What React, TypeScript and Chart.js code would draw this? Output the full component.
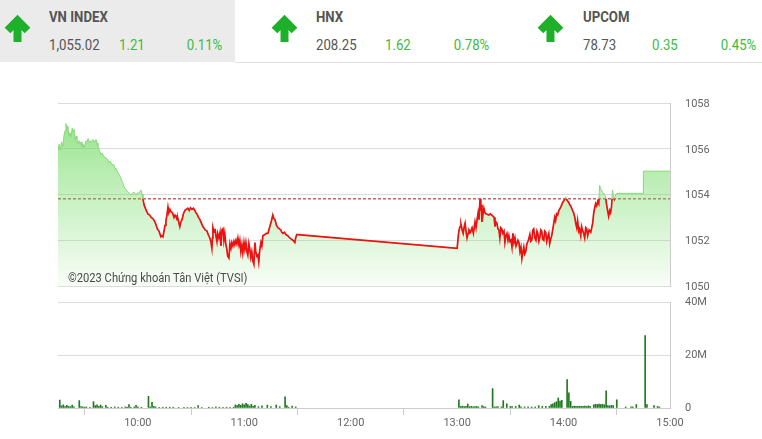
import React, { useEffect, useRef } from "react";
import { Chart, registerables } from "chart.js";

Chart.register(...registerables);

// ---------- header data ----------
const indexNames = ["VN INDEX", "HNX", "UPCOM"];
const indexValues = ["1,055.02", "208.25", "78.73"];
const indexChanges = ["1.21", "1.62", "0.35"];
const indexPercents = ["0.11%", "0.78%", "0.45%"];

// ---------- price data ----------
const refValue = 1053.81;
const priceTicks = [1050, 1052, 1054, 1056, 1058];
const priceTickLabels = ["1050", "1052", "1054", "1056", "1058"];
const timeTickLabels = ["10:00", "11:00", "12:00", "13:00", "14:00", "15:00"];
const axisStart = "09:15:00";
const axisEnd = "15:00:00";

const priceTimes = [
  "09:15:00", "09:15:40", "09:16:20", "09:17:00", "09:17:40", "09:18:25", "09:19:00", "09:19:30",
  "09:20:00", "09:20:35", "09:21:10", "09:21:45", "09:22:20", "09:23:00", "09:23:30", "09:24:05",
  "09:24:35", "09:25:10", "09:25:40", "09:26:20", "09:27:00", "09:27:25", "09:28:00", "09:28:30",
  "09:29:05", "09:29:35", "09:30:15", "09:30:50", "09:31:25", "09:31:55", "09:32:30", "09:33:00",
  "09:33:50", "09:34:40", "09:35:30", "09:36:25", "09:37:00", "09:37:30", "09:38:20", "09:39:10",
  "09:40:00", "09:40:55", "09:42:00", "09:42:50", "09:43:40", "09:44:30", "09:45:25", "09:46:30",
  "09:47:10", "09:47:40", "09:48:20", "09:48:50", "09:49:40", "09:50:30", "09:51:20", "09:52:10",
  "09:53:20", "09:54:25", "09:55:15", "09:56:05", "09:57:00", "09:57:50", "09:58:55", "10:00:00",
  "10:00:35", "10:01:20", "10:01:50", "10:02:25", "10:02:55", "10:03:30", "10:04:30", "10:05:40",
  "10:06:40", "10:07:30", "10:08:30", "10:09:20", "10:10:10", "10:11:00", "10:11:55", "10:13:00",
  "10:13:30", "10:14:10", "10:14:45", "10:15:20", "10:15:50", "10:16:25", "10:17:00", "10:17:30",
  "10:18:05", "10:18:40", "10:19:30", "10:20:25", "10:21:00", "10:21:30", "10:22:05", "10:22:35",
  "10:23:10", "10:23:40", "10:24:15", "10:24:55", "10:25:40", "10:26:30", "10:27:20", "10:28:10",
  "10:29:00", "10:29:40", "10:30:30", "10:31:20", "10:32:10", "10:32:45", "10:33:20", "10:34:10",
  "10:35:00", "10:35:50", "10:36:40", "10:38:00", "10:39:00", "10:39:40", "10:40:35", "10:41:10",
  "10:41:45", "10:42:05", "10:42:20", "10:43:00", "10:43:30", "10:44:00", "10:44:35", "10:45:00",
  "10:45:40", "10:46:20", "10:46:50", "10:47:25", "10:48:00", "10:48:30", "10:49:00", "10:49:35",
  "10:50:10", "10:50:40", "10:51:20", "10:51:55", "10:52:30", "10:53:00", "10:53:35", "10:54:10",
  "10:54:40", "10:55:20", "10:55:50", "10:56:25", "10:57:00", "10:57:30", "10:58:05", "10:58:40",
  "10:59:10", "10:59:50", "11:00:20", "11:00:55", "11:01:30", "11:02:00", "11:02:35", "11:03:10",
  "11:03:40", "11:04:15", "11:04:50", "11:05:25", "11:06:00", "11:06:30", "11:07:05", "11:07:40",
  "11:08:10", "11:08:45", "11:09:25", "11:09:55", "11:10:30", "11:11:35", "11:12:30", "11:13:20",
  "11:14:25", "11:15:20", "11:16:05", "11:16:40", "11:17:20", "11:18:10", "11:19:00", "11:19:50",
  "11:20:35", "11:21:10", "11:21:50", "11:22:40", "11:23:30", "11:24:30", "11:25:40", "11:26:30",
  "11:27:25", "11:28:00", "11:28:30", "11:29:00", "11:29:35", "11:30:00", "13:00:00", "13:00:40",
  "13:01:05", "13:01:40", "13:02:10", "13:02:50", "13:03:25", "13:04:00", "13:04:30", "13:05:00",
  "13:05:35", "13:06:10", "13:06:40", "13:07:30", "13:08:25", "13:09:10", "13:10:05", "13:10:40",
  "13:11:20", "13:11:50", "13:12:20", "13:12:55", "13:13:20", "13:13:40", "13:14:00", "13:14:30",
  "13:15:05", "13:15:40", "13:16:30", "13:17:55", "13:18:40", "13:19:35", "13:20:50", "13:21:20",
  "13:21:50", "13:22:25", "13:23:00", "13:23:35", "13:24:05", "13:24:40", "13:25:10", "13:25:45",
  "13:26:25", "13:26:55", "13:27:30", "13:28:05", "13:28:40", "13:29:10", "13:29:45", "13:30:20",
  "13:30:55", "13:31:25", "13:32:00", "13:32:35", "13:33:10", "13:33:40", "13:34:15", "13:34:50",
  "13:35:25", "13:36:00", "13:36:30", "13:37:00", "13:37:35", "13:38:05", "13:38:40", "13:39:20",
  "13:40:10", "13:41:00", "13:41:30", "13:42:05", "13:42:40", "13:43:10", "13:43:50", "13:44:25",
  "13:45:00", "13:45:30", "13:46:05", "13:46:35", "13:47:10", "13:47:40", "13:48:15", "13:48:50",
  "13:49:25", "13:49:55", "13:50:30", "13:51:05", "13:51:40", "13:52:10", "13:52:45", "13:53:20",
  "13:54:10", "13:55:00", "13:55:30", "13:56:05", "13:56:40", "13:57:20", "13:58:25", "13:59:30",
  "14:00:20", "14:01:10", "14:02:00", "14:02:55", "14:03:30", "14:04:00", "14:05:05", "14:05:40",
  "14:06:20", "14:06:50", "14:07:25", "14:07:55", "14:08:30", "14:09:00", "14:09:40", "14:10:10",
  "14:10:40", "14:11:20", "14:11:55", "14:12:30", "14:13:00", "14:13:35", "14:14:20", "14:15:20",
  "14:16:25", "14:17:00", "14:17:30", "14:18:05", "14:18:40", "14:19:15", "14:19:50", "14:20:20",
  "14:21:10", "14:22:00", "14:23:00", "14:23:40", "14:24:10", "14:24:50", "14:25:25", "14:26:00",
  "14:26:30", "14:27:00", "14:27:35", "14:28:10", "14:28:40", "14:29:20", "14:29:55", "14:45:00",
  "14:45:00", "15:00:00",
];

const priceValues = [
  1055.9, 1056.2, 1055.95, 1056.3, 1056.1, 1056.6, 1056.8, 1057.1,
  1056.85, 1057.0, 1056.55, 1056.7, 1056.5, 1056.9, 1056.75, 1056.85,
  1056.4, 1056.55, 1056.45, 1056.2, 1056.35, 1056.25, 1056.3, 1056.1,
  1056.2, 1056.05, 1056.2, 1056.35, 1056.3, 1056.45, 1056.3, 1056.35,
  1056.3, 1056.4, 1056.3, 1056.4, 1056.25, 1056.1, 1055.95, 1055.75,
  1055.8, 1055.65, 1055.6, 1055.55, 1055.4, 1055.45, 1055.3, 1055.3,
  1055.15, 1055.1, 1055.05, 1054.95, 1054.85, 1054.7, 1054.55, 1054.35,
  1054.2, 1054.1, 1054.05, 1053.98, 1054.05, 1054.1, 1054.0, 1054.08,
  1054.05, 1054.15, 1054.2, 1054.0, 1053.8, 1053.55, 1053.35, 1053.15,
  1053.1, 1053.0, 1052.95, 1052.85, 1052.7, 1052.5, 1052.4, 1052.15,
  1052.2, 1052.15, 1052.4, 1052.65, 1052.85, 1053.1, 1053.45, 1053.2,
  1053.35, 1053.25, 1053.2, 1053.0, 1053.1, 1053.05, 1052.9, 1052.95,
  1052.75, 1052.6, 1052.8, 1052.9, 1053.15, 1053.3, 1053.35, 1053.4,
  1053.3, 1053.42, 1053.35, 1053.4, 1053.3, 1053.2, 1053.15, 1053.0,
  1052.9, 1052.75, 1052.6, 1052.45, 1052.4, 1052.25, 1052.1, 1051.95,
  1051.65, 1052.1, 1052.55, 1052.35, 1052.5, 1052.2, 1051.95, 1052.3,
  1052.1, 1052.35, 1051.75, 1052.45, 1052.5, 1052.0, 1052.3, 1051.85,
  1051.6, 1051.3, 1051.22, 1051.85, 1051.65, 1051.9, 1051.75, 1051.95,
  1051.8, 1052.0, 1051.85, 1052.1, 1051.8, 1052.0, 1051.5, 1051.8,
  1051.45, 1051.9, 1051.6, 1051.9, 1051.5, 1051.35, 1051.85, 1051.6,
  1051.25, 1051.5, 1051.1, 1050.95, 1051.9, 1051.5, 1051.3, 1051.35,
  1051.05, 1051.6, 1051.9, 1051.75, 1052.2, 1052.25, 1052.3, 1052.3,
  1052.6, 1052.85, 1053.1, 1052.95, 1052.9, 1052.65, 1052.55, 1052.5,
  1052.45, 1052.35, 1052.3, 1052.35, 1052.25, 1052.2, 1052.1, 1052.05,
  1052.0, 1051.95, 1051.9, 1052.1, 1052.25, 1052.25, 1051.65, 1052.2,
  1052.45, 1052.6, 1052.7, 1052.45, 1052.3, 1052.6, 1052.75, 1052.4,
  1052.1, 1052.3, 1052.45, 1052.35, 1052.55, 1052.3, 1052.8, 1052.55,
  1052.95, 1053.2, 1052.9, 1053.8, 1053.3, 1053.55, 1052.8, 1053.1,
  1053.4, 1053.2, 1053.15, 1053.1, 1053.15, 1053.1, 1053.0, 1052.6,
  1052.8, 1052.75, 1052.5, 1052.45, 1052.1, 1052.55, 1052.5, 1052.3,
  1052.4, 1051.9, 1052.2, 1052.3, 1052.0, 1052.2, 1051.95, 1052.0,
  1051.7, 1052.3, 1051.9, 1052.1, 1051.75, 1051.85, 1052.0, 1051.9,
  1051.5, 1051.7, 1051.2, 1051.45, 1051.7, 1051.4, 1051.5, 1051.85,
  1052.0, 1052.25, 1051.95, 1052.0, 1052.45, 1052.5, 1052.1, 1052.0,
  1052.4, 1052.3, 1051.95, 1052.1, 1052.45, 1052.4, 1052.05, 1052.0,
  1052.4, 1052.35, 1051.95, 1052.15, 1052.3, 1051.85, 1052.05, 1052.2,
  1052.6, 1053.0, 1052.85, 1053.15, 1053.1, 1053.3, 1053.45, 1053.65,
  1053.75, 1053.9, 1053.75, 1053.65, 1053.55, 1053.5, 1053.3, 1053.2,
  1053.0, 1052.75, 1052.55, 1052.85, 1052.4, 1052.5, 1052.2, 1052.6,
  1052.45, 1052.3, 1052.1, 1052.55, 1052.5, 1052.2, 1052.45, 1052.35,
  1052.75, 1053.2, 1053.4, 1053.6, 1053.5, 1053.7, 1053.6, 1054.4,
  1054.2, 1054.1, 1054.0, 1053.95, 1053.6, 1053.3, 1053.05, 1053.3,
  1053.2, 1053.45, 1054.2, 1053.9, 1053.8, 1054.0, 1054.05, 1054.05,
  1055.02, 1055.02,
];

// ---------- volume data (millions) ----------
const volumeTicks = [0, 20, 40];
const volumeTickLabels = ["0", "20M", "40M"];
const volumeTimes = [
  "09:16", "09:17", "09:18", "09:19", "09:20", "09:21", "09:22", "09:23", "09:24", "09:27",
  "09:28", "09:29", "09:30", "09:31", "09:33", "09:35", "09:36", "09:37", "09:38", "09:39",
  "09:40", "09:42", "09:43", "09:45", "09:47", "09:49", "09:51", "09:53", "09:54", "09:55",
  "09:56", "09:58", "09:59", "10:00", "10:02", "10:06", "10:07", "10:08", "10:09", "10:10",
  "10:12", "10:14", "10:16", "10:18", "10:20", "10:23", "10:26", "10:28", "10:30", "10:32",
  "10:34", "10:36", "10:40", "10:42", "10:44", "10:46", "10:48", "10:50", "10:52", "10:54",
  "10:55", "10:56", "10:57", "10:58", "10:59", "11:00", "11:01", "11:02", "11:03", "11:04",
  "11:05", "11:06", "11:08", "11:10", "11:13", "11:15", "11:18", "11:20", "11:23", "11:24",
  "11:25", "11:27", "11:29",
  "13:01", "13:02", "13:03", "13:04", "13:05", "13:06", "13:07", "13:08", "13:09", "13:10",
  "13:11", "13:12", "13:14", "13:15", "13:16", "13:20", "13:21", "13:22", "13:23", "13:25",
  "13:26", "13:28", "13:30", "13:31", "13:33", "13:35", "13:36", "13:38", "13:40", "13:42",
  "13:44", "13:46", "13:48", "13:50", "13:52", "13:53", "13:54", "13:55", "13:56", "13:57",
  "13:58", "13:59", "14:02", "14:03", "14:04", "14:05", "14:06", "14:07", "14:08", "14:09",
  "14:10", "14:11", "14:12", "14:13", "14:14", "14:15", "14:17", "14:18", "14:19", "14:20",
  "14:21", "14:22", "14:23", "14:24", "14:25", "14:26", "14:27", "14:28", "14:30", "14:35",
  "14:38", "14:39", "14:41", "14:46", "14:47", "14:51", "14:53", "14:54",
];
const volumeValues = [
  3.0, 0.8, 1.2, 0.5, 1.0, 0.6, 0.5, 1.1, 0.4, 2.8,
  0.5, 0.4, 0.3, 0.4, 0.3, 2.4, 0.9, 1.2, 0.6, 1.1,
  0.5, 1.0, 0.3, 0.3, 0.4, 0.3, 0.3, 0.4, 0.3, 1.3,
  0.3, 0.4, 1.0, 0.4, 0.3, 4.4, 0.4, 2.1, 0.6, 0.4,
  0.3, 0.3, 0.3, 0.3, 0.3, 0.2, 0.3, 0.2, 0.3, 0.2,
  0.9, 0.2, 0.3, 0.2, 0.4, 0.3, 0.3, 0.3, 0.3, 0.3,
  1.2, 0.9, 1.4, 1.0, 1.6, 1.2, 1.8, 1.3, 0.8, 1.4,
  0.6, 1.0, 0.5, 0.8, 1.1, 0.5, 1.1, 0.5, 4.2, 0.9,
  0.3, 0.7, 0.4,
  3.1, 0.6, 0.7, 0.5, 0.6, 1.5, 0.5, 0.6, 0.4, 0.5,
  0.6, 0.4, 0.9, 0.5, 0.4, 7.3, 0.4, 0.4, 0.5, 0.4,
  2.8, 1.6, 0.6, 0.5, 0.6, 1.1, 0.4, 0.4, 0.4, 0.4,
  0.4, 0.9, 0.6, 0.6, 0.6, 1.3, 1.6, 2.0, 2.4, 3.8,
  2.6, 2.9, 10.7, 5.7, 2.5, 0.6, 0.7, 0.6, 0.6, 0.7,
  0.6, 0.6, 0.7, 0.6, 0.8, 0.6, 1.2, 1.4, 1.3, 1.5,
  1.3, 1.4, 1.2, 6.5, 0.9, 0.8, 1.0, 0.9, 3.1, 0.4,
  0.4, 0.4, 1.3, 27.3, 1.3, 0.9, 0.6, 0.4,
];

const toMinBase = 9 * 60 + 15;
const toMin = (t: string) => {
  const p = t.split(":").map(Number);
  const s = p[2] || 0;
  return p[0] * 60 + p[1] + s / 60 - toMinBase;
};

const FONT = "Roboto, 'Noto Sans', sans-serif";
const GRID = "#dcdcdc";
const BORDER = "#cccccc";
const LABEL = "#666666";
const W = 762;
const PLOT_RIGHT = 670;
const PLOT_LEFT = 58;

// clip the red line to the part below the reference price
const refClipPlugin = {
  id: "refClip",
  beforeDatasetDraw(chart: any, args: any) {
    const ds = chart.data.datasets[args.index];
    if (ds.label !== "below") return;
    const y = chart.scales.y.getPixelForValue(refValue);
    const { ctx, chartArea } = chart;
    ctx.save();
    ctx.beginPath();
    ctx.rect(chartArea.left, y, chartArea.right - chartArea.left, chartArea.bottom - y + 3);
    ctx.clip();
  },
  afterDatasetDraw(chart: any, args: any) {
    const ds = chart.data.datasets[args.index];
    if (ds.label !== "below") return;
    chart.ctx.restore();
  },
};

// right-hand y labels drawn manually (keeps Chart.js layout padding exact)
const yLabelPlugin = {
  id: "yLabels",
  afterDraw(chart: any, _args: any, opts: any) {
    if (!opts || !opts.values) return;
    const { ctx, chartArea } = chart;
    const scale = chart.scales.y;
    ctx.save();
    ctx.font = `11px ${FONT}`;
    ctx.fillStyle = LABEL;
    ctx.textAlign = "left";
    ctx.textBaseline = "middle";
    opts.values.forEach((v: number, i: number) => {
      ctx.fillText(opts.labels[i], chartArea.right + 15, scale.getPixelForValue(v) + (opts.dy || 0));
    });
    ctx.restore();
  },
};

const timeTickValues = () => timeTickLabels.map((l) => toMin(l));

function PriceChart() {
  const ref = useRef<HTMLCanvasElement | null>(null);
  useEffect(() => {
    if (!ref.current) return;
    const pts = priceTimes.map((t, i) => ({ x: toMin(t), y: priceValues[i] }));
    const xMin = toMin(axisStart);
    const xMax = toMin(axisEnd);
    const chart = new Chart(ref.current, {
      type: "line",
      data: {
        datasets: [
          {
            label: "reference",
            data: [
              { x: xMin, y: refValue },
              { x: xMax, y: refValue },
            ],
            borderColor: "#a81414",
            borderWidth: 1,
            borderDash: [3, 2],
            pointRadius: 0,
            fill: false,
            order: 3,
          },
          {
            label: "area",
            data: pts,
            borderColor: "#86d878",
            borderWidth: 1,
            pointRadius: 0,
            tension: 0,
            fill: "start",
            backgroundColor: (c: any) => {
              const { ctx, chartArea } = c.chart;
              if (!chartArea) return "rgba(100,215,85,0.4)";
              const g = ctx.createLinearGradient(0, chartArea.top, 0, chartArea.bottom);
              g.addColorStop(0, "rgba(100,215,85,0.75)");
              g.addColorStop(0.5, "rgba(110,218,95,0.40)");
              g.addColorStop(1, "rgba(120,220,105,0.06)");
              return g;
            },
            order: 2,
          },
          {
            label: "below",
            data: pts,
            borderColor: "#ee1111",
            borderWidth: 1.7,
            pointRadius: 0,
            tension: 0,
            fill: false,
            order: 1,
          },
        ],
      },
      options: {
        responsive: false,
        animation: false,
        events: [],
        layout: { padding: { left: PLOT_LEFT, right: 0, top: 13, bottom: 9 } },
        plugins: {
          legend: { display: false },
          tooltip: { enabled: false },
          yLabels: { values: priceTicks, labels: priceTickLabels, dy: 1 },
        } as any,
        scales: {
          x: {
            type: "linear",
            display: false,
            min: xMin,
            max: xMax,
          },
          y: {
            position: "right",
            min: 1050,
            max: 1058,
            afterBuildTicks: (s: any) => {
              s.ticks = priceTicks.map((v) => ({ value: v }));
            },
            afterFit: (s: any) => {
              s.width = W - PLOT_RIGHT;
            },
            grid: { color: GRID, drawTicks: false },
            border: { display: true, color: BORDER },
            ticks: { display: false },
          },
        },
      },
      plugins: [refClipPlugin, yLabelPlugin],
    });
    return () => chart.destroy();
  }, []);
  return <canvas ref={ref} width={W} height={205} style={{ display: "block" }} />;
}

function VolumeChart() {
  const ref = useRef<HTMLCanvasElement | null>(null);
  useEffect(() => {
    if (!ref.current) return;
    const pts = volumeTimes.map((t, i) => ({ x: toMin(t), y: volumeValues[i] }));
    const xMin = toMin(axisStart);
    const xMax = toMin(axisEnd);
    const chart = new Chart(ref.current, {
      type: "bar",
      data: {
        datasets: [
          {
            label: "volume",
            data: pts,
            backgroundColor: "#1f7a1f",
            borderWidth: 0,
            barThickness: 1,
            grouped: false,
          },
        ],
      },
      options: {
        responsive: false,
        animation: false,
        events: [],
        layout: { padding: { left: PLOT_LEFT, right: 0, top: 7, bottom: 6 } },
        plugins: {
          legend: { display: false },
          tooltip: { enabled: false },
          yLabels: { values: volumeTicks, labels: volumeTickLabels, dy: 0 },
        } as any,
        scales: {
          x: {
            type: "linear",
            min: xMin,
            max: xMax,
            offset: false,
            afterBuildTicks: (s: any) => {
              s.ticks = timeTickValues().map((v) => ({ value: v }));
            },
            afterFit: (s: any) => {
              s.height = 25;
            },
            grid: { drawOnChartArea: false, drawTicks: true, tickLength: 7, color: BORDER },
            border: { display: true, color: BORDER },
            ticks: {
              padding: 2,
              maxRotation: 0,
              autoSkip: false,
              color: LABEL,
              font: { family: FONT, size: 11 },
              callback: (v: any) => {
                const i = timeTickValues().findIndex((t) => Math.abs(t - v) < 0.01);
                return i >= 0 ? timeTickLabels[i] : "";
              },
            },
          },
          y: {
            position: "right",
            min: 0,
            max: 40,
            afterBuildTicks: (s: any) => {
              s.ticks = volumeTicks.map((v) => ({ value: v }));
            },
            afterFit: (s: any) => {
              s.width = W - PLOT_RIGHT;
            },
            grid: { color: GRID, drawTicks: false },
            border: { display: true, color: BORDER },
            ticks: { display: false },
          },
        },
      },
      plugins: [yLabelPlugin],
    });
    return () => chart.destroy();
  }, []);
  return <canvas ref={ref} width={W} height={144} style={{ display: "block" }} />;
}

function UpArrow({ left }: { left: number }) {
  return (
    <svg width={30} height={29} viewBox="0 0 30 29" style={{ position: "absolute", left, top: 13 }}>
      <path
        d="M14.5 29 V7 M4.5 17.5 L14.5 7.5 L24.5 17.5"
        stroke="#1eb02a"
        strokeWidth={8}
        fill="none"
        strokeLinejoin="miter"
        strokeLinecap="butt"
      />
    </svg>
  );
}

const arrowLefts = [3, 270, 536];
const textLefts = [49, 316, 583];
const changeLefts = [119, 385, 652];
const pctRights = [222, 489, 756];

function Txt(props: { left?: number; right?: number; top: number; color: string; bold?: boolean; children: any }) {
  const style: any = {
    position: "absolute",
    top: props.top,
    fontFamily: FONT,
    fontSize: 15,
    lineHeight: "15px",
    fontWeight: props.bold ? 700 : 400,
    color: props.color,
    whiteSpace: "nowrap",
    transform: "scaleX(0.88)",
  };
  if (props.left !== undefined) {
    style.left = props.left;
    style.transformOrigin = "left center";
  } else {
    style.right = W - (props.right as number);
    style.transformOrigin = "right center";
  }
  return <div style={style}>{props.children}</div>;
}

export default function App() {
  return (
    <div
      style={{
        position: "absolute",
        left: 0,
        top: 0,
        width: W,
        height: 439,
        background: "#ffffff",
        overflow: "hidden",
        fontFamily: FONT,
      }}
    >
      <div style={{ position: "absolute", left: 0, top: 0, width: 235, height: 62, background: "#ebebeb" }} />
      <div style={{ position: "absolute", left: 235, top: 62, width: W - 235, height: 1, background: "#e2e2e2" }} />
      {indexNames.map((n, i) => (
        <React.Fragment key={n}>
          <UpArrow left={arrowLefts[i]} />
          <Txt left={textLefts[i]} top={10} color="#555555" bold>
            {n}
          </Txt>
          <Txt left={textLefts[i]} top={38} color="#555555">
            {indexValues[i]}
          </Txt>
          <Txt left={changeLefts[i]} top={38} color="#3dbb3d">
            {indexChanges[i]}
          </Txt>
          <Txt right={pctRights[i]} top={38} color="#3dbb3d">
            {indexPercents[i]}
          </Txt>
        </React.Fragment>
      ))}
      <div style={{ position: "absolute", left: 0, top: 90 }}>
        <PriceChart />
      </div>
      <div
        style={{
          position: "absolute",
          left: 68,
          top: 271,
          fontFamily: FONT,
          fontSize: 12,
          lineHeight: "14px",
          color: "#4a4a4a",
          whiteSpace: "nowrap",
          transform: "scaleX(0.93)",
          transformOrigin: "left center",
        }}
      >
        ©2023 Chứng khoán Tân Việt (TVSI)
      </div>
      <div style={{ position: "absolute", left: 0, top: 295 }}>
        <VolumeChart />
      </div>
    </div>
  );
}
